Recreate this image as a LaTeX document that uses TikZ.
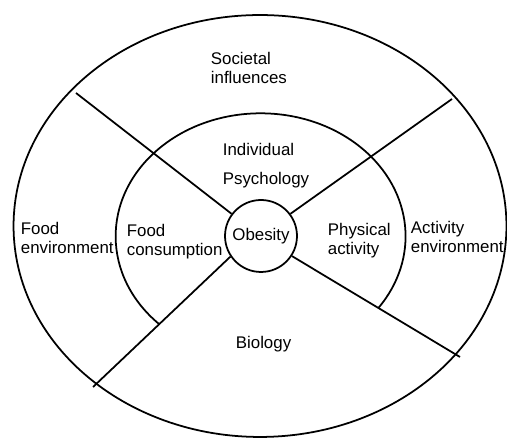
\documentclass[tikz,border=0pt]{standalone}
\usepackage{fontspec}
\setmainfont{Liberation Sans}
\begin{document}
\begin{tikzpicture}[x=0.02cm,y=0.02cm,line width=1pt]
	\tikzstyle{txt} = [inner sep=0pt,anchor=base west,align=left,font=\fontsize{9.6}{11.3}\selectfont]
	\useasboundingbox (0,0) rectangle (507,438);
	\draw (260,212) ellipse [x radius=4.93cm,y radius=4.22cm];
	\draw (159,114) arc [start angle=225.5,end angle=-35.7,x radius=2.9cm,y radius=2.46cm];
	\node[circle,draw,minimum size=1.44cm,inner sep=0pt,font=\fontsize{9.6}{11.3}\selectfont] (obesity) at (261,202) {Obesity};
	\coordinate (ul) at (76,345);
	\coordinate (ur) at (452,339);
	\coordinate (ll) at (93,51);
	\coordinate (lr) at (460,81);
	\draw (ul) -- (obesity.143);
	\draw (ur) -- (obesity.37);
	\draw (ll) -- (obesity.214);
	\draw (lr) -- (obesity.327);
	\node[txt] (societal) at (210,354) {Societal\\influences};
	\node[txt] (psych) at (222,253) {Individual\\[5.5pt]Psychology};
	\node[txt] (foodenv) at (20,184) {Food\\environment};
	\node[txt] (foodcons) at (126,182) {Food\\consumption};
	\node[txt] (physical) at (327,183) {Physical\\activity};
	\node[txt] (actenv) at (410,185) {Activity\\environment};
	\node[txt] (biology) at (235,89) {Biology};
\end{tikzpicture}
\end{document}
